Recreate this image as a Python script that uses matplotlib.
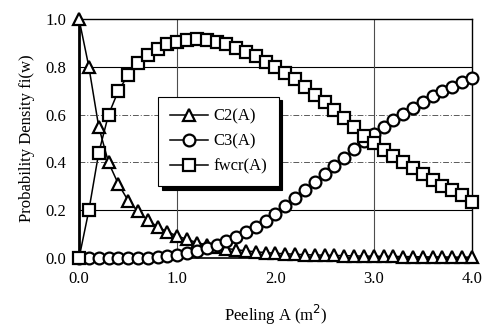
import numpy as np
import matplotlib
matplotlib.use("Agg")
import matplotlib.pyplot as plt

plt.rcParams['font.family'] = ['Liberation Serif', 'DejaVu Serif']

# peeling area A (m^2), every 0.1
area = [round(0.1 * i, 1) for i in range(41)]

c2 = [1.0, 0.80, 0.55, 0.40, 0.31, 0.24, 0.195, 0.16, 0.13, 0.11,
      0.092, 0.078, 0.065, 0.055, 0.047, 0.040, 0.035, 0.030, 0.026, 0.023,
      0.020, 0.018, 0.016, 0.014, 0.013, 0.012, 0.011, 0.010, 0.009, 0.008,
      0.008, 0.007, 0.007, 0.006, 0.006, 0.005, 0.005, 0.005, 0.004, 0.004,
      0.004]
c3 = [0.0, 0.0, 0.0, 0.0, 0.0, 0.0, 0.001, 0.002, 0.004, 0.008,
      0.014, 0.021, 0.031, 0.043, 0.056, 0.070, 0.088, 0.108, 0.130, 0.157,
      0.186, 0.218, 0.250, 0.284, 0.318, 0.352, 0.386, 0.420, 0.455, 0.488,
      0.520, 0.550, 0.578, 0.605, 0.630, 0.654, 0.677, 0.698, 0.718, 0.737,
      0.755]
fwcr = [0.0, 0.20, 0.44, 0.60, 0.70, 0.766, 0.815, 0.852, 0.877, 0.895,
        0.905, 0.913, 0.915, 0.912, 0.905, 0.895, 0.880, 0.864, 0.845, 0.821,
        0.798, 0.773, 0.748, 0.717, 0.684, 0.654, 0.618, 0.585, 0.550, 0.512,
        0.480, 0.452, 0.427, 0.401, 0.375, 0.352, 0.326, 0.302, 0.283, 0.262,
        0.235]

fig = plt.figure(figsize=(4.85, 3.3), dpi=100)
ax = fig.add_axes([0.163, 0.218, 0.81, 0.724])

# grid lines as in the original
for y in [0.2, 0.8]:
    ax.axhline(y, color='black', lw=0.8, zorder=0)
for y in [0.4, 0.6]:
    ax.axhline(y, color='0.35', lw=0.7, ls=(0, (6, 2, 1, 2)), zorder=0)
for x in [1.0, 3.0]:
    ax.axvline(x, color='0.3', lw=0.8, zorder=0)

style = dict(color='black', lw=1.1, markersize=8.5, markeredgewidth=1.6,
             markerfacecolor='white', clip_on=False)
ax.plot(area, c2, marker='^', label='C2(A)', zorder=3, **style)
ax.plot(area, c3, marker='o', label='C3(A)', zorder=4, **style)
ax.plot(area, fwcr, marker='s', label='fwcr(A)', zorder=5, **style)

ax.set_xlim(0, 4.0)
ax.set_ylim(0, 1.0)
ax.set_xticks([0, 1, 2, 3, 4])
ax.set_xticklabels(['0.0', '1.0', '2.0', '3.0', '4.0'])
ax.set_yticks([0, 0.2, 0.4, 0.6, 0.8, 1.0])
ax.set_yticklabels(['0.0', '0.2', '0.4', '0.6', '0.8', '1.0'])
ax.tick_params(length=0, labelsize=12, pad=9)

ax.spines['left'].set_linewidth(2.0)
ax.spines['bottom'].set_linewidth(1.2)
ax.spines['top'].set_linewidth(1.0)
ax.spines['right'].set_linewidth(1.0)

ax.set_xlabel('Peeling A (m$^2$)', fontsize=12, labelpad=12)
ax.set_ylabel('Probability Density fi(w)', fontsize=12, labelpad=8)

leg = ax.legend(loc='upper left', bbox_to_anchor=(0.18, 0.71), fontsize=12,
                frameon=True, fancybox=False, edgecolor='black', framealpha=1,
                shadow={'color': 'black', 'alpha': 1, 'ox': 2.5, 'oy': -2.5},
                handlelength=2.3, handletextpad=0.3, labelspacing=0.55,
                borderpad=0.7)
leg.get_frame().set_linewidth(0.8)
leg.set_zorder(10)

fig.savefig('out.png', dpi=100)
